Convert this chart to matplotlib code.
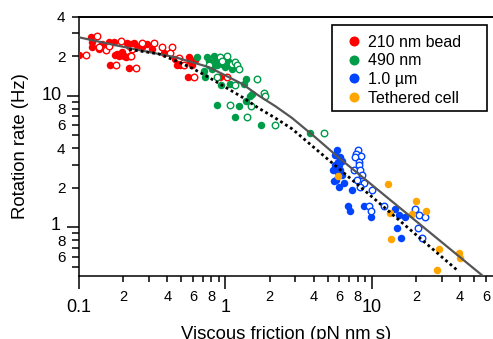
import matplotlib
matplotlib.use('Agg')
from matplotlib import pyplot as plt
from matplotlib.lines import Line2D
from matplotlib.patches import Rectangle
from matplotlib.ticker import FixedLocator, FixedFormatter
from matplotlib.transforms import ScaledTranslation

plt.rcParams['font.family'] = ['Liberation Sans', 'DejaVu Sans']

# 210 nm bead
red_filled_x = [0.100, 0.120, 0.123, 0.122, 0.136, 0.144, 0.160, 0.173, 0.182, 0.187, 0.197, 0.202,
                0.213, 0.219, 0.225, 0.237, 0.243, 0.249, 0.208, 0.162, 0.221, 0.292, 0.379, 0.455,
                0.468, 0.492, 0.561, 0.576, 0.594, 0.623, 0.552, 0.923, 0.175, 0.270, 0.316]
red_filled_y = [20.5, 27.8, 25.5, 23.3, 22.7, 24.8, 25.5, 25.8, 20.8, 20.0, 21.4, 20.2,
                25.2, 24.0, 24.8, 25.2, 24.3, 23.3, 19.6, 17.2, 16.3, 24.8, 21.2, 19.1,
                17.2, 17.0, 19.6, 18.5, 17.2, 18.8, 14.0, 14.0, 20.5, 23.3, 22.7]
red_open_x = [0.1125, 0.133, 0.136, 0.152, 0.192, 0.222, 0.231, 0.270, 0.324, 0.370, 0.432, 0.421,
              0.179, 0.245, 0.480, 0.519, 0.606, 1.03, 0.228, 0.160]
red_open_y = [20.5, 28.3, 23.3, 22.4, 26.2, 20.0, 22.7, 25.2, 25.2, 23.3, 23.3, 21.0,
              17.2, 16.3, 19.4, 17.0, 14.0, 14.0, 19.9, 24.0]

# 490 nm
green_filled_x = [0.64, 0.749, 0.768, 0.789, 0.831, 0.853, 0.876, 0.899, 0.948, 0.972, 1.00, 1.03,
                  1.05, 1.11, 0.71, 0.729, 0.938, 1.08, 1.37, 1.33, 1.48, 1.52, 1.37, 0.876,
                  1.23, 1.16, 1.76, 0.81, 3.8]
green_filled_y = [19.6, 19.6, 18.5, 17.0, 20.2, 18.0, 17.0, 19.1, 17.5, 18.5, 16.5, 17.0,
                  18.0, 16.0, 15.5, 13.8, 12.0, 12.3, 13.4, 12.3, 10.0, 10.35, 9.2, 8.44,
                  8.34, 6.89, 5.96, 16.0, 5.21]
green_open_x = [0.768, 0.923, 1.03, 1.11, 1.17, 1.20, 1.23, 0.948, 0.876, 1.16, 1.64, 1.82,
                1.85, 1.50, 1.07, 1.40, 2.17, 4.68]
green_open_y = [17.0, 19.6, 20.2, 17.5, 18.0, 17.0, 16.0, 18.5, 13.8, 12.0, 13.4, 10.5,
                10.0, 8.34, 8.44, 6.89, 5.96, 5.21]

# 1.0 um
blue_filled_x = [5.77, 5.62, 6.08, 5.83, 6.0, 5.42, 6.08, 6.24, 5.71, 6.4, 5.96, 7.31, 6.86, 7.11,
                 8.77, 9.89, 14.3, 15.2, 16.7, 14.9, 15.8, 5.55, 6.2, 5.9, 5.5]
blue_filled_y = [3.90, 3.53, 3.43, 3.14, 2.96, 2.72, 2.72, 2.49, 2.31, 2.16, 2.03, 1.92, 1.45, 1.34,
                 1.45, 1.19, 1.39, 1.24, 1.20, 0.99, 0.83, 3.0, 3.2, 2.6, 2.25]
blue_open_x = [8.03, 7.78, 8.45, 7.61, 8.10, 8.2, 7.49, 8.3, 8.5, 7.95, 8.77, 8.27, 10.0, 9.6,
               9.85, 12.1, 19.7, 21.0, 23.1, 20.6, 21.9]
blue_open_y = [3.90, 3.64, 3.47, 3.43, 3.14, 2.96, 2.72, 2.72, 2.49, 2.31, 2.16, 2.03, 1.92, 1.45,
               1.34, 1.45, 1.39, 1.24, 1.20, 0.99, 0.83]

# tethered cell
orange_x = [5.86, 12.8, 20.0, 23.5, 13.3, 18.7, 13.5, 28.5, 39.5, 40.0, 27.7]
orange_y = [2.45, 2.12, 1.59, 1.34, 1.29, 1.27, 0.81, 0.69, 0.64, 0.59, 0.475]

# model curves
solid_x = [0.1, 0.16, 0.27, 0.455, 0.77, 1.3, 1.68, 2.2, 2.84, 4.0, 6.1, 12.6, 55, 70]
solid_y = [27.8, 24.8, 22.0, 19.6, 16.5, 12.3, 10.05, 8.3, 6.79, 4.95, 3.3, 1.70, 0.443, 0.355]
dotted_x = [0.22, 0.35, 0.455, 0.592, 0.768, 1.0, 1.30, 1.68, 2.19, 2.85, 10.3, 38.0]
dotted_y = [22.5, 20.8, 18.5, 16.2, 13.8, 11.6, 9.76, 8.06, 6.77, 5.6, 1.66, 0.475]

labels = ['210 nm bead', '490 nm', '1.0 \u00b5m', 'Tethered cell']
colors = ['#ff0000', '#009c48', '#0044ff', '#ffa500']

x_major = [0.1, 1, 10]
x_major_labels = ['0.1', '1', '10']
x_minor = [0.2, 0.3, 0.4, 0.5, 0.6, 0.7, 0.8, 0.9, 2, 3, 4, 5, 6, 7, 8, 9, 20, 30, 40, 50, 60]
x_minor_labels = ['2', '', '4', '', '6', '', '8', '', '2', '', '4', '', '6', '', '8', '',
                  '2', '', '4', '', '6']
y_major = [1, 10]
y_major_labels = ['1', '10']
y_minor = [0.5, 0.6, 0.7, 0.8, 0.9, 2, 3, 4, 5, 6, 7, 8, 9, 20, 30, 40]
y_minor_labels = ['', '6', '', '8', '', '2', '', '4', '', '6', '', '8', '', '2', '', '4']

fig = plt.figure(figsize=(4.93, 3.39), dpi=100)
ax = fig.add_axes([79 / 493, 63.5 / 339, 414 / 493, 259 / 339])
ax.set_xscale('log')
ax.set_yscale('log')
ax.set_xlim(0.1, 67)
ax.set_ylim(0.431, 40)

ms = 5.4
sets = [(red_filled_x, red_filled_y, red_open_x, red_open_y, colors[0]),
        (green_filled_x, green_filled_y, green_open_x, green_open_y, colors[1]),
        (blue_filled_x, blue_filled_y, blue_open_x, blue_open_y, colors[2])]
for fx, fy, ox, oy, c in sets:
    ax.plot(fx, fy, 'o', color=c, ms=ms, mew=0, zorder=3)
    ax.plot(ox, oy, 'o', mfc='white', mec=c, ms=ms - 0.7, mew=1.0, zorder=3)
ax.plot(orange_x, orange_y, 'o', color=colors[3], ms=ms, mew=0, zorder=3)

ax.plot(solid_x, solid_y, '-', color='#555555', lw=1.6, zorder=4)
ax.plot(dotted_x, dotted_y, color='black', lw=2.0, ls=(0, (1, 1.1)), zorder=4)

ax.xaxis.set_major_locator(FixedLocator(x_major))
ax.xaxis.set_major_formatter(FixedFormatter(x_major_labels))
ax.xaxis.set_minor_locator(FixedLocator(x_minor))
ax.xaxis.set_minor_formatter(FixedFormatter(x_minor_labels))
ax.yaxis.set_major_locator(FixedLocator(y_major))
ax.yaxis.set_major_formatter(FixedFormatter(y_major_labels))
ax.yaxis.set_minor_locator(FixedLocator(y_minor))
ax.yaxis.set_minor_formatter(FixedFormatter(y_minor_labels))

ax.tick_params(which='both', direction='out', width=1.1, top=False, right=False)
ax.tick_params(axis='x', which='major', length=9.4, labelsize=13, pad=7.5)
ax.tick_params(axis='x', which='minor', length=4.3, labelsize=10.5, pad=6)
ax.tick_params(axis='y', which='major', length=8.4, labelsize=13, pad=3)
ax.tick_params(axis='y', which='minor', length=4.7, labelsize=11, pad=5)

ax.spines['right'].set_visible(False)
ax.spines['left'].set_linewidth(1.1)
ax.spines['bottom'].set_linewidth(1.1)
ax.spines['top'].set_linewidth(1.4)

ax.set_xlabel('Viscous friction (pN nm s)', fontsize=13.3)
ax.set_ylabel('Rotation rate (Hz)', fontsize=13.3)
ax.xaxis.set_label_coords(0.5, -0.195)
ax.yaxis.set_label_coords(-0.121, 0.5)

ax.add_patch(Rectangle((0.6104, 0.6351), 0.3751, 0.3319, transform=ax.transAxes,
                       facecolor='white', edgecolor='black', lw=1.2, zorder=5))
handles = [Line2D([], [], marker='o', ls='none', color=c, ms=7.2, mew=0) for c in colors]
leg = ax.legend(handles, labels, loc='upper left', bbox_to_anchor=(0.6104, 0.986),
                borderaxespad=0, borderpad=0.9, handlelength=1.0, handletextpad=0.4,
                labelspacing=0.23, fontsize=11.5, frameon=False)
leg.set_zorder(6)

# nudge the decade labels up a little, as in the original layout
fig.canvas.draw()
for t in ax.yaxis.get_major_ticks():
    if t.label1.get_text() == '1':
        t.label1.set_transform(t.label1.get_transform() +
                               ScaledTranslation(-2 / 72, 3 / 72, fig.dpi_scale_trans))
    elif t.label1.get_text() == '10':
        t.label1.set_transform(t.label1.get_transform() +
                               ScaledTranslation(-1 / 72, 1.5 / 72, fig.dpi_scale_trans))

fig.savefig('out.png', dpi=100)
plt.close(fig)
